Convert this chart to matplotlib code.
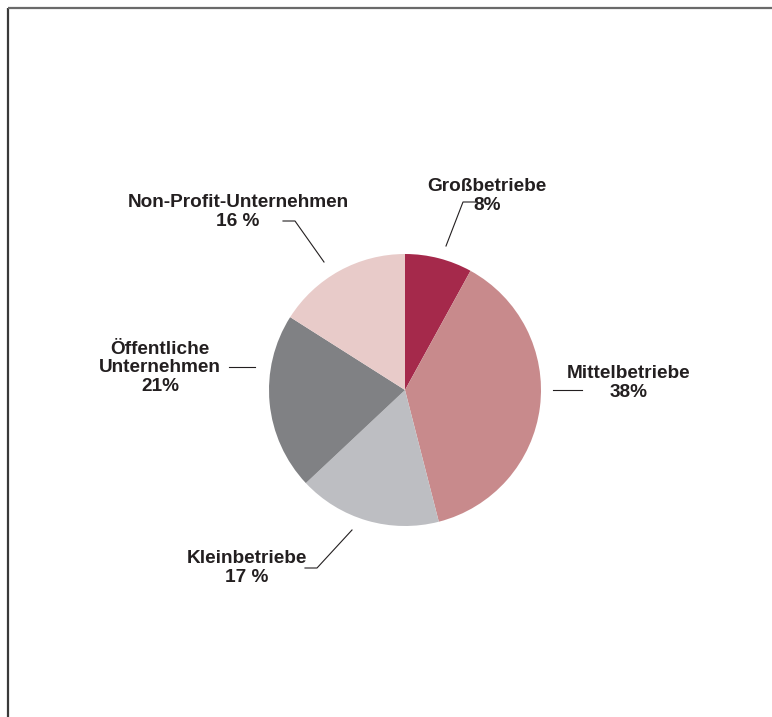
import matplotlib.pyplot as plt

# Anteile der Betriebsarten (in %)
labels = ["Großbetriebe", "Mittelbetriebe", "Kleinbetriebe",
          "Öffentliche\nUnternehmen", "Non-Profit-Unternehmen"]
shares = [8, 38, 17, 21, 16]
share_text = ["8%", "38%", "17 %", "21%", "16 %"]
colors = ["#A5294B", "#C88A8C", "#BDBEC2", "#808184", "#E8CBC9"]

W, H = 772, 717


def py(y):
    # pixel row (from top) -> axis y
    return H - y


fig = plt.figure(figsize=(W / 100, H / 100), dpi=100)
ax = fig.add_axes([0, 0, 1, 1])

ax.pie(shares, colors=colors, startangle=90, counterclock=False,
       center=(405, py(390)), radius=136, frame=True)
ax.set_xlim(0, W)
ax.set_ylim(0, H)
ax.set_aspect("auto")
ax.axis("off")

# frame (top + left only)
ax.plot([8, 8], [py(8), 0], color="#3a3a3a", lw=1.6, solid_capstyle="butt")
ax.plot([8, W], [py(8), py(8)], color="#6a6a6a", lw=1.6, solid_capstyle="butt")

# label positions (text centre) and leader lines
label_pos = [(487, 196), (629, 383), (247, 568), (160, 368), (238, 212)]
leaders = [
    [(446, 246), (463, 202), (476, 202)],
    [(553, 390), (582, 390)],
    [(352, 530), (317, 568), (305, 568)],
    [(229, 367), (255, 367)],
    [(324, 262), (295, 221), (283, 221)],
]

font = dict(family=["Liberation Sans", "DejaVu Sans"], fontsize=13.7,
            fontweight="bold", color="#231f20")

for lab, pct, (x, y), pts in zip(labels, share_text, label_pos, leaders):
    ax.text(x, py(y), lab + "\n" + pct, ha="center", va="center",
            linespacing=1.15, **font)
    xs = [p[0] for p in pts]
    ys = [py(p[1]) for p in pts]
    ax.plot(xs, ys, color="#231f20", lw=0.8)

fig.savefig("out.png", dpi=100)
